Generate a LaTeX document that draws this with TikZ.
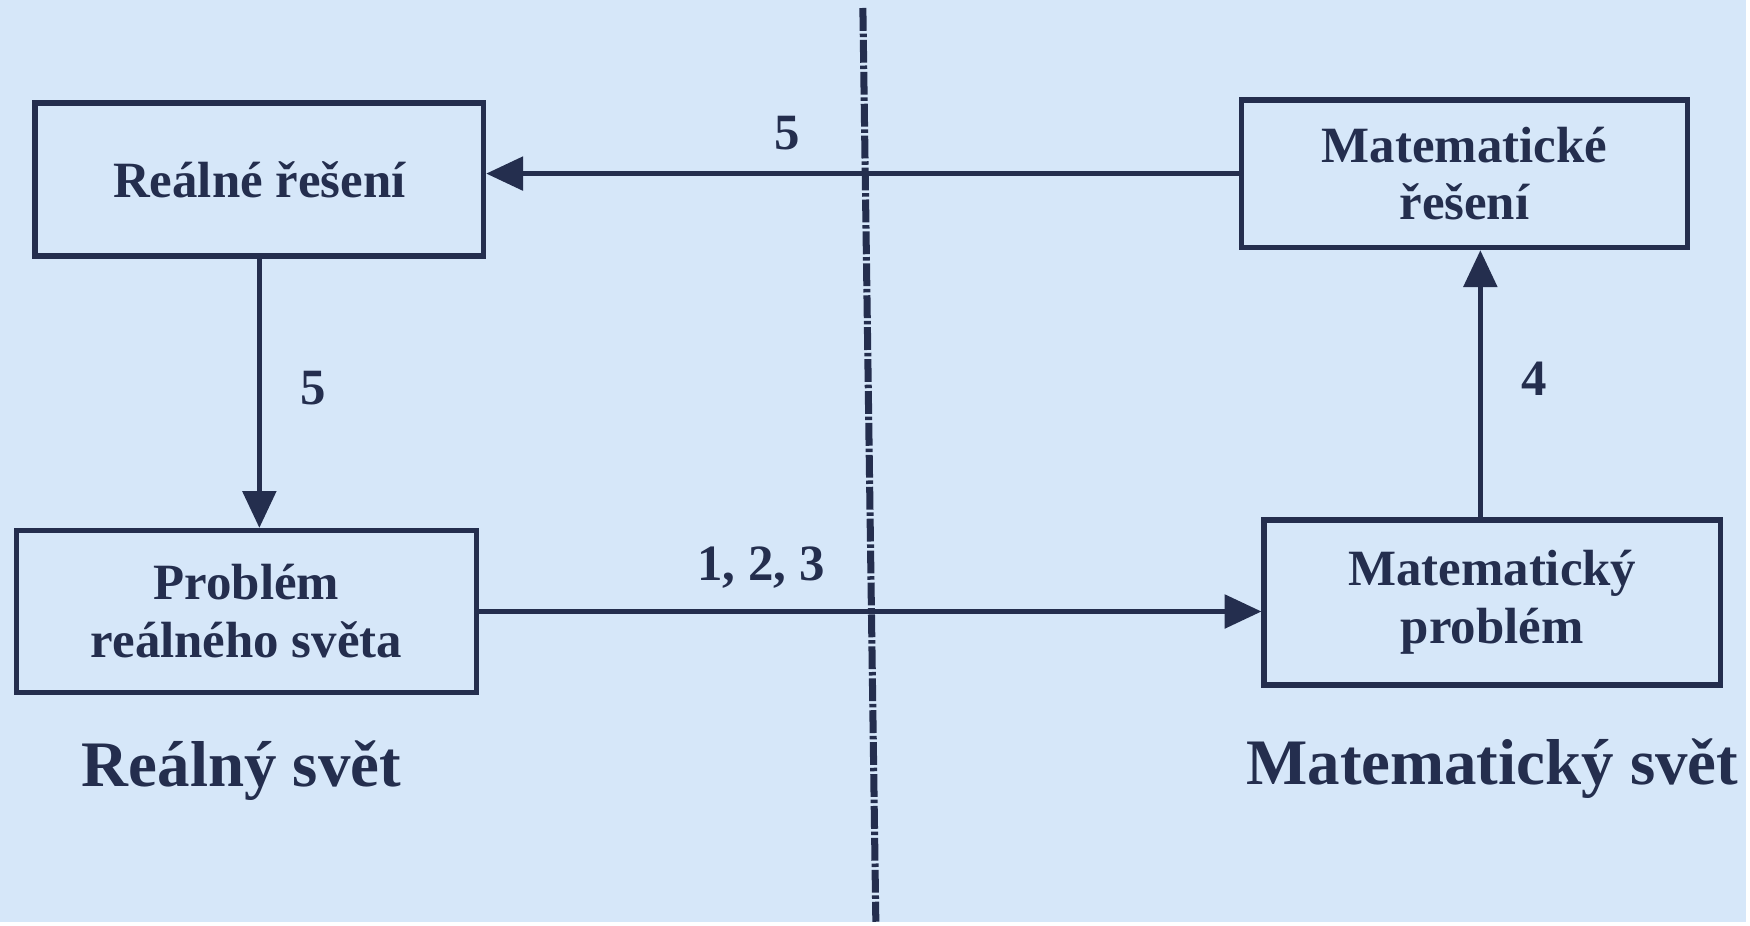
\documentclass[tikz,border=0pt]{standalone}
\usepackage{fontspec}
\setmainfont{Liberation Serif}
\usepackage{tikz}
\usetikzlibrary{arrows.meta,calc}
\definecolor{paper}{RGB}{214,231,249}
\definecolor{ink}{RGB}{36,46,78}

\begin{document}
\begin{tikzpicture}[x=0.01cm, y=-0.01cm,
  box/.style={draw=ink, line width=1.6pt, text=ink, align=center, inner sep=0pt,
    font=\fontsize{14.5}{16.5}\selectfont\bfseries},
  lbl/.style={text=ink, inner sep=1pt, font=\fontsize{14.5}{18}\selectfont\bfseries},
  world/.style={text=ink, font=\fontsize{18.5}{22}\selectfont\bfseries},
  arr/.style={draw=ink, line width=1.3pt, -{Triangle[length=10.5pt,width=9.5pt]}},
  divider/.style={draw=ink, line width=2pt, dash pattern=on 6.5pt off 0.8pt on 1pt off 0.8pt}]
  \fill[paper] (0,0) rectangle (1750,924);
  \node[box, minimum width=4.49cm, minimum height=1.53cm] (rs) at (260,180) {Reálné řešení};
  \node[box, minimum width=4.47cm, minimum height=1.48cm] (ms) at (1468,174) {Matematické\\řešení};
  \node[box, minimum width=4.61cm, minimum height=1.62cm] (pr) at (247,613) {Problém\\reálného světa};
  \node[box, minimum width=4.57cm, minimum height=1.65cm] (mp) at (1496,604) {Matematický\\problém};
  \node[world] (rw) at (242,772) {Reálný svět};
  \node[world] (mw) at (1496,770) {Matematický svět};
  % dividing line
  \coordinate (top) at (865,8);
  \coordinate (bot) at (878,924);
  \draw[divider] (top) -- (bot);
  % arrows
  \coordinate (up) at ($(mp.north)+(-12,0)$);
  \draw[arr] (ms.west) -- (ms.west -| rs.east) node[lbl, pos=.6, above=5pt] (n5a) {5};
  \draw[arr] (rs.south) -- (rs.south |- pr.north) node[lbl, pos=.48, right=10pt] (n5b) {5};
  \draw[arr] (pr.east) -- (pr.east -| mp.west) node[lbl, pos=.36, above=5pt] (n123) {1, 2, 3};
  \draw[arr] (up) -- (up |- ms.south) node[lbl, pos=.52, right=10pt] (n4) {4};
\end{tikzpicture}
\end{document}
